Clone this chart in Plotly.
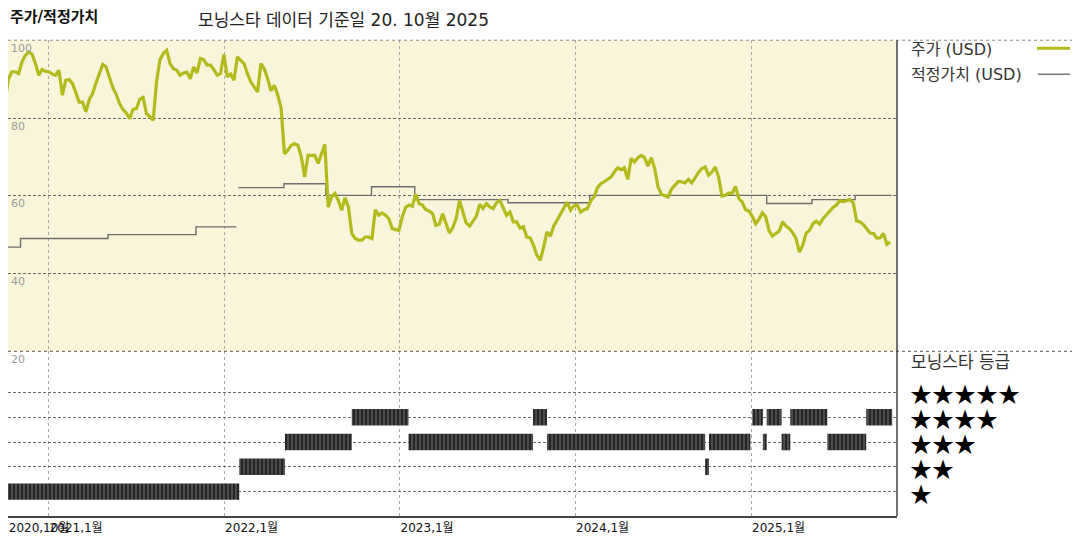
import pandas as pd
import plotly.graph_objects as go

# the page body adds an 8px margin and the capture comes out slightly squeezed
# in height, so window pixels are mapped back to figure pixels below
OX, OY, SY = 8, 8, 0.972
W, H = 1064, 540

# weekly closing price (USD), weeks ending Friday from 2020-10-02
week_start = '2020-10-02'
price = [
    84.1, 90.1, 91.9, 91.9, 91.4, 94.4, 96.1, 97.0, 96.4, 94.0,
    91.0, 92.5, 92.0, 91.9, 91.3, 91.0, 92.3, 85.9, 89.7, 89.9,
    88.9, 86.3, 84.1, 84.1, 81.6, 84.7, 86.3, 89.0, 91.6, 93.8,
    93.1, 90.4, 87.8, 86.1, 83.7, 82.2, 81.3, 79.8, 82.2, 82.4,
    84.8, 85.3, 81.1, 80.4, 79.4, 89.4, 94.9, 96.6, 97.4, 94.0,
    92.7, 92.3,
    91.0, 91.6, 91.8, 90.1, 93.1, 91.6, 95.3, 95.0, 93.6, 93.6,
    92.5, 91.0, 91.4, 96.4, 90.6, 91.3, 89.7, 95.7, 94.9, 94.0,
    91.4, 89.3, 88.0, 86.7, 94.0, 92.7, 90.1, 87.0, 88.4, 85.9,
    82.6, 70.8, 71.7, 73.0, 73.4, 73.0, 70.0, 64.8, 70.4, 70.4,
    70.4, 68.3, 70.8, 73.2, 57.1, 59.7, 60.6, 58.8, 56.3, 59.5,
    57.1, 50.3, 49.0, 48.6,
    48.6, 49.4, 49.4, 49.0, 56.4, 55.0, 55.6, 55.0, 54.1, 51.6,
    51.3, 51.1, 54.6, 57.0, 57.6, 57.3, 60.4, 58.0, 57.6, 56.4,
    56.1, 55.4, 52.4, 52.7, 55.4, 52.8, 50.4, 51.8, 54.1, 58.8,
    55.8, 53.0, 52.2, 53.5, 54.7, 57.8, 56.7, 58.0, 57.1, 56.7,
    58.2, 58.8, 57.1, 55.0, 55.8, 53.3, 53.3, 51.7, 52.0, 49.4,
    49.2, 47.3, 44.7,
    43.4, 46.8, 50.7, 49.6, 52.2, 53.7, 55.4, 57.0, 58.4, 56.3,
    57.4, 57.6, 55.8, 56.4, 56.7, 58.7, 59.7, 62.1, 63.1, 63.6,
    64.2, 64.8, 66.1, 67.2, 66.7, 67.2, 64.2, 69.6, 68.7, 69.8,
    70.4, 69.8, 67.6, 69.8, 67.0, 62.3, 60.4, 60.1, 59.7, 61.7,
    62.6, 63.7, 63.6, 63.3, 64.2, 63.3, 64.6, 66.0, 67.0, 67.4,
    65.3, 66.1, 67.4, 64.8,
    59.9, 60.1, 60.7, 60.6, 62.4, 59.3, 58.4, 56.4, 56.1, 54.7,
    52.8, 54.0, 55.6, 54.6, 51.0, 49.6, 50.3, 50.9, 53.3, 52.2,
    51.6, 50.5, 49.0, 45.5, 47.3, 50.4, 51.1, 52.8, 53.5, 52.7,
    54.1, 55.0, 56.0, 57.0, 57.6, 58.7, 58.5, 58.8, 59.0, 58.2,
    53.5, 53.3, 52.6, 51.5, 50.4, 50.3, 49.1, 49.2, 50.3, 47.5,
    48.1,
]

# fair value (USD), step changes
fv_dates = ['2020-10-01', '2020-11-03', '2021-05-04', '2021-11-03', '2022-01-26',
            '2022-01-28', '2022-01-30', '2022-05-05', '2022-07-31', '2022-11-03',
            '2023-02-01', '2023-08-14', '2024-01-31', '2025-02-02', '2025-05-07',
            '2025-08-05', '2025-10-20']
fv_values = [46.8, 49.0, 50.0, 52.0, 52.0,
             None, 62.1, 63.1, 60.1, 62.3,
             59.0, 58.2, 60.1, 58.0, 59.0,
             60.1, 60.1]

# morningstar rating periods
rating_stars = [1, 2, 3, 4, 3, 4, 3, 2, 3, 4, 3, 4, 3, 4, 3, 4]
rating_start = ['2020-10-01', '2022-02-01', '2022-05-07', '2022-09-23', '2023-01-19',
                '2023-10-05', '2023-11-03', '2024-09-27', '2024-10-05', '2025-01-03',
                '2025-01-25', '2025-02-02', '2025-03-05', '2025-03-23', '2025-06-08',
                '2025-08-28']
rating_end = ['2022-02-01', '2022-05-07', '2022-09-23', '2023-01-19', '2023-10-05',
              '2023-11-03', '2024-09-27', '2024-10-05', '2024-12-30', '2025-01-25',
              '2025-02-02', '2025-03-05', '2025-03-23', '2025-06-08', '2025-08-28',
              '2025-10-21']

x_range = ['2020-10-08', '2025-10-31']
tick_dates = ['2020-10-08', '2021-01-01', '2022-01-01', '2023-01-01', '2024-01-01', '2025-01-01']
tick_labels = ['2020,10월', '2021,1월', '2022,1월', '2023,1월', '2024,1월', '2025,1월']
y_ticks = [20, 40, 60, 80, 100]
star_levels = [5, 4, 3, 2, 1]

FONT = 'DejaVu Sans, Noto Sans CJK KR'
STAR_FONT = 'Noto Sans CJK KR'
OLIVE = '#B3BA1C'
FV_GREY = '#6e6e6e'


def px(x):
    # window pixel -> paper x
    return min(1, max(0, (x - OX) / W))


def py(y):
    # window pixel -> paper y
    return 1 - (y / SY - OY) / H


price_dates = pd.date_range(week_start, periods=len(price), freq='W-FRI')
dur_ms = (pd.to_datetime(rating_end) - pd.to_datetime(rating_start)) / pd.Timedelta(milliseconds=1)

fig = go.Figure()
fig.add_trace(go.Scatter(x=fv_dates, y=fv_values, mode='lines', line_shape='hv',
                         line=dict(color=FV_GREY, width=1.4), connectgaps=False,
                         xaxis='x', yaxis='y'))
fig.add_trace(go.Scatter(x=price_dates, y=price, mode='lines',
                         line=dict(color=OLIVE, width=3.2), xaxis='x', yaxis='y'))
fig.add_trace(go.Bar(y=rating_stars, x=dur_ms, base=rating_start, orientation='h',
                     width=0.66, xaxis='x2', yaxis='y2',
                     marker=dict(color='#333333', line_width=0,
                                 pattern=dict(shape='|', fgcolor='#000000', bgcolor='#4c4c4c',
                                              size=4, solidity=0.5))))

xdom = [px(4), px(897)]
grid_x = dict(type='date', range=x_range, domain=xdom, tickvals=tick_dates, showgrid=True,
              gridcolor='#a8a8a8', griddash='dot', gridwidth=1, zeroline=False, ticks='')

fig.update_layout(
    width=W, height=H, margin=dict(l=0, r=0, t=0, b=0),
    paper_bgcolor='white', plot_bgcolor='white', showlegend=False,
    font=dict(family=FONT, color='#333'),
    barmode='overlay',
    xaxis=dict(grid_x, anchor='y', showticklabels=False),
    xaxis2=dict(grid_x, anchor='y2', matches='x', ticktext=tick_labels,
                ticklabelposition='outside right', tickangle=0,
                tickfont=dict(size=12, color='#111', family=FONT),
                showline=True, linecolor='#444', linewidth=1.5),
    yaxis=dict(domain=[py(351), py(40)], range=[20, 100], tickvals=y_ticks,
               ticklabelposition='inside bottom', ticklabeloverflow='allow',
               tickfont=dict(size=11, color='#9a9a9a', family=FONT),
               showgrid=True, gridcolor='#6a6a6a', griddash='3px,2px', gridwidth=1,
               zeroline=False, ticks=''),
    yaxis2=dict(domain=[py(516), py(351)], range=[0, 6.66], tickvals=star_levels,
                showticklabels=False, showgrid=True, gridcolor='#6a6a6a',
                griddash='3px,2px', gridwidth=1, zeroline=False, ticks=''),
)

# yellow panel behind the price chart
fig.add_shape(type='rect', xref='x domain', yref='y domain', x0=0, x1=1, y0=0, y1=1,
              fillcolor='#F9F5DA', line_width=0, layer='below')
# frame lines
fig.add_shape(type='line', xref='paper', yref='paper', x0=px(4), x1=1, y0=py(40), y1=py(40),
              line=dict(color='#8a8a8a', width=1, dash='dot'))
fig.add_shape(type='line', xref='paper', yref='paper', x0=px(4), x1=1, y0=py(351), y1=py(351),
              line=dict(color='#555', width=1, dash='dot'))
fig.add_shape(type='line', xref='paper', yref='paper', x0=px(897), x1=px(897),
              y0=py(516), y1=py(40), line=dict(color='#444', width=1.5))

# titles
fig.add_annotation(text='<b>주가/적정가치</b>', xref='paper', yref='paper', x=px(7), y=py(17),
                   xanchor='left', yanchor='middle', showarrow=False,
                   font=dict(size=15, color='#111'))
fig.add_annotation(text='모닝스타 데이터 기준일 20. 10월 2025', xref='paper', yref='paper',
                   x=px(196), y=py(20), xanchor='left', yanchor='middle', showarrow=False,
                   font=dict(size=17, color='#222'))

# legend
fig.add_annotation(text='주가 (USD)', xref='paper', yref='paper', x=px(909), y=py(49),
                   xanchor='left', yanchor='middle', showarrow=False, font=dict(size=16, color='#333'))
fig.add_shape(type='line', xref='paper', yref='paper', x0=px(1037), x1=px(1070),
              y0=py(48), y1=py(48), line=dict(color=OLIVE, width=3))
fig.add_annotation(text='적정가치 (USD)', xref='paper', yref='paper', x=px(909), y=py(74),
                   xanchor='left', yanchor='middle', showarrow=False, font=dict(size=16, color='#333'))
fig.add_shape(type='line', xref='paper', yref='paper', x0=px(1038), x1=px(1070),
              y0=py(74), y1=py(74), line=dict(color=FV_GREY, width=1.4))

fig.add_annotation(text='모닝스타 등급', xref='paper', yref='paper', x=px(909), y=py(362),
                   xanchor='left', yanchor='middle', showarrow=False, font=dict(size=17, color='#333'))
for n in star_levels:
    fig.add_annotation(text='★' * n, xref='paper', yref='y2', x=px(908), y=n,
                       xanchor='left', yanchor='middle', showarrow=False,
                       font=dict(size=22, color='black', family=STAR_FONT))

fig.write_html('out.html')
